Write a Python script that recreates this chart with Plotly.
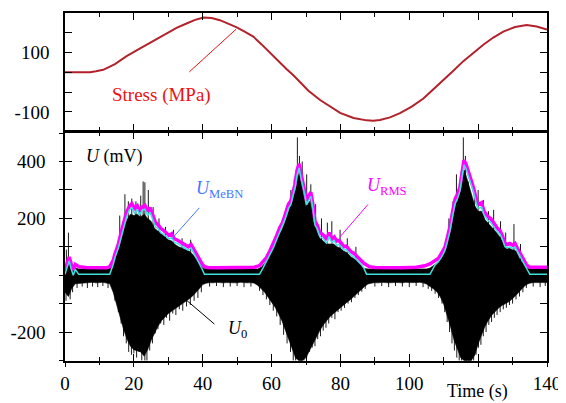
import plotly.graph_objects as go

# ---------------- data ----------------
# Stress (MPa) vs time (s)
stress_t = [0, 1.5, 5, 7.3, 9, 11.1, 14.5, 17.9, 20.8, 23.7, 26.6, 29.5, 32.4, 35.3, 37.8, 40.2,
            42.6, 45, 47.5, 49.9, 52.3, 54.7, 57.1, 59.5, 62, 64.4, 66.4, 68.3, 70.7, 74.1,
            77, 79.9, 83.8, 87.6, 89.5, 91.5, 94.4, 97.3, 100.7, 104.1, 107, 109.9, 112.8,
            115.7, 118.6, 121.5, 124.4, 127.3, 130.7, 134.1, 137, 140]
stress_v = [32.5, 32.5, 32.5, 33, 36, 41, 60, 87, 106, 125, 144, 163, 181, 196, 208, 216,
            214, 207, 196, 183, 168, 152, 126, 98, 70, 43, 22, 0, -29, -60,
            -82, -103, -120, -128, -129, -127, -118, -104, -82, -55, -24, 6, 38,
            70, 99, 125, 149, 169, 184, 191, 186, 176]

# U0 envelopes (mV) sampled every second, t = 0..140
u0_t = list(range(0, 141))
u0_hi = [30, 55, 30, 25, 22, 22, 22, 22, 22, 22, 22, 22, 22, 25, 40, 80, 125, 165, 195, 215,
         210, 215, 205, 215, 200, 190, 165, 155, 145, 135, 125, 120, 108, 100, 95, 88, 85, 75,
         58, 42, 25,
         22, 22, 22, 22, 22, 22, 22, 22, 22, 22, 22, 22, 22, 22, 22, 22,
         28, 42, 62, 85, 110, 140, 160, 190, 225, 265, 320, 360, 300, 240, 260, 220, 160, 130,
         120, 110, 110, 110, 100, 95, 85, 78, 65, 58, 50, 35, 24,
         22, 22, 22, 22, 22, 22, 22, 22, 22, 22, 22, 22, 22, 22, 22, 22, 22, 22,
         25, 32, 42, 58, 80, 110, 180, 235, 260, 320, 370, 330, 290, 245, 225, 225, 195, 182,
         170, 155, 140, 120, 92, 95, 90, 85, 60, 40, 25,
         22, 22, 22, 22, 22, 22]
u0_lo = [-60, -75, -45, -30, -28, -26, -27, -26, -25, -27, -26, -25, -27, -30, -60, -95, -145,
         -190, -225, -250, -262, -265, -270, -285, -262, -230, -205, -180, -160, -148, -135,
         -125, -116, -108, -100, -92, -84, -74, -62, -48, -33,
         -28, -26, -27, -25, -26, -27, -26, -25, -26, -27, -25, -26, -27, -26, -28, -36,
         -48, -60, -76, -95, -112, -135, -160, -192, -222, -258, -292, -300, -300, -290, -265,
         -245, -220, -195, -175, -160, -145, -133, -122, -112, -104, -94, -85, -75, -64, -52, -40,
         -31, -28, -26, -27, -25, -26, -27, -26, -25, -26, -27, -25, -26, -27, -26, -25, -27, -31,
         -40, -48, -58, -76, -102, -140, -182, -228, -262, -292, -300, -300, -300, -282, -242,
         -210, -180, -158, -140, -126, -115, -106, -100, -93, -82, -71, -58, -44, -33,
         -28, -26, -27, -25, -26, -26]

# Individual U0 spikes (time s, peak mV)
spike_t = [0.3, 0.8, 1.5, 2.2, 3.5, 5, 6.5, 8, 9.5, 11, 12.5,
           14.5, 15.5, 16.3, 17.0, 17.8, 18.5, 19.3, 20.0, 20.8, 21.5, 22.3, 23.2, 23.8, 24.6,
           25.4, 26.2, 27.0, 27.8, 28.7, 29.5, 30.4, 31.3, 32.2, 33.2, 34.2, 35.3, 36.4, 37.5,
           38.6, 39.6,
           42, 44, 46, 48, 50, 52, 54,
           56.5, 57.5, 58.5, 59.5, 60.5, 61.5, 62.5, 63.5, 64.5, 65.5, 66.3, 67, 67.8, 68.6,
           69.4, 70.2, 71, 71.8, 72.6, 73.4, 74.2, 75.0, 75.8, 76.6, 77.5, 78.4, 79.3, 80.2,
           81.2, 82.2, 83.2, 84.2, 85.2, 86.2, 87.2,
           90, 92, 94, 96, 98, 100, 102, 104,
           105.5, 106.5, 107.5, 108.5, 109.5, 110.3, 111, 111.7, 112.4, 113.1, 113.8, 114.5,
           115.2, 115.9, 116.6, 117.3, 118, 118.7, 119.4, 120.1, 120.8, 121.5, 122.3, 123.1,
           123.9, 124.7, 125.5, 126.4, 127.3, 128.2, 129.1, 130, 131, 132, 133, 134,
           136, 138, 139.5,
           0.4, 1.0, 15.9, 17.4, 18.4, 19.4, 20.6, 22.0, 22.7, 23.2, 24.2, 25.6, 27.3, 29.2,
           31.5, 34.0, 36.5,
           64.2, 65.6, 66.6, 67.5, 68.1, 68.9, 70.2, 71.4, 72.8, 74.5, 76.2, 77.5, 79.9, 82.0,
           84.5,
           111.5, 112.7, 113.7, 114.6, 115.7, 116.3, 117.1, 118.9, 120.0, 121.5, 123.0, 124.5,
           126.5, 128, 130.4, 132.3]
spike_v = [-90, -70, -85, -60, -45, -40, -45, -40, -42, -38, -45,
           -90, -130, -170, -215, -240, -270, -280, -275, -290, -270, -300, -300, -300, -265,
           -240, -205, -190, -170, -175, -150, -160, -135, -140, -120, -125, -110, -105, -90,
           -80, -60,
           -40, -38, -42, -40, -38, -42, -40,
           -55, -70, -85, -105, -125, -145, -175, -210, -240, -270, -300, -300, -300, -300,
           -300, -290, -270, -255, -250, -225, -215, -195, -185, -170, -150, -155, -130, -125,
           -115, -100, -95, -80, -70, -58, -48,
           -40, -38, -42, -38, -40, -42, -38, -42,
           -48, -55, -65, -80, -100, -130, -165, -200, -240, -265, -290, -300,
           -300, -300, -300, -300, -300, -300, -280, -255, -245, -215, -200, -175,
           -165, -150, -140, -130, -120, -115, -105, -100, -85, -75, -60, -45,
           -40, -42, -38,
           90, 150, 210, 285, 260, 270, 260, 280, 330, 327, 300, 240, 200, 170,
           160, 130, 125,
           235, 300, 340, 485, 420, 400, 355, 320, 250, 200, 185, 190, 160, 130,
           100,
           200, 260, 355, 330, 485, 420, 330, 290, 300, 265, 225, 230,
           190, 150, 180, 110]

# U_RMS and U_MeBN (mV)
env_t = [0, 0.5, 1.2, 1.8, 2.4, 3.0, 4, 6, 8, 10, 12, 13, 14, 14.5, 15.5, 16.5, 17.2, 17.9,
         18.6, 19.4, 20.2, 21.0, 21.6, 22.4, 23.2, 24.0, 24.7, 25.5, 26.3, 27.0, 27.8, 28.6,
         29.4, 30.2, 31.0, 31.8, 32.6, 33.4, 34.2, 35.0, 35.8, 36.6, 37.4, 38.2, 39.0, 39.8,
         40.5, 41.5, 44, 48, 52, 55, 56.5, 57.5, 58.5, 59.5, 60.5, 61.5, 62.4, 63.2, 64.0,
         64.9, 65.6, 66.3, 66.8, 67.4, 68.0, 68.5, 69.0, 69.6, 70.2, 70.8, 71.4, 72.0, 72.6,
         73.3, 74.0, 74.6, 75.3, 76.0, 76.7, 77.5, 78.2, 78.9, 79.6, 80.3, 81.0, 81.7, 82.4,
         83.1, 83.8, 84.5, 85.2, 86.0, 86.8, 87.6, 88.4, 90, 94, 98, 102, 104.5, 106, 107.5,
         108.5, 109.5, 110.4, 111.1, 111.8, 112.6, 113.3, 114.0, 114.7, 115.3, 115.9, 116.5,
         117.1, 117.8, 118.6, 119.2, 119.8, 120.4, 121.0, 121.7, 122.3, 122.9, 123.6, 124.3,
         124.9, 125.6, 126.3, 127.0, 127.8, 128.5, 129.2, 130.0, 130.7, 131.4, 132.0, 132.6,
         133.3, 134.1, 135, 137, 140]
u_rms = [20, 40, 64, 40, 18, 38, 30, 27, 26, 25, 26, 30, 52, 75, 110, 160, 190, 222,
         240, 252, 236, 245, 228, 240, 246, 225, 238, 210, 185, 178, 165, 158,
         150, 140, 146, 128, 124, 118, 110, 106, 100, 108, 90, 72, 58, 40,
         30, 27, 26, 26, 27, 28, 34, 46, 62, 85, 110, 140, 168, 185, 215,
         250, 262, 300, 320, 370, 392, 360, 335, 300, 262, 280, 292, 250, 190,
         175, 150, 145, 138, 125, 150, 128, 135, 120, 122, 112, 100, 102, 92,
         82, 78, 70, 62, 50, 42, 36, 30, 27, 26, 26, 28, 33, 40, 50,
         60, 80, 100, 135, 170, 225, 268, 285, 310, 360, 405, 390,
         362, 340, 310, 275, 252, 250, 255, 225, 215, 205, 200, 190,
         178, 165, 158, 140, 112, 108, 112, 106, 112, 95, 82, 70,
         52, 35, 28, 27, 28]
u_mebn = [3, 25, 50, 22, 0, 20, 3, 3, 3, 3, 3, 3, 38, 62, 96, 145, 178, 205,
          228, 238, 218, 232, 212, 228, 232, 210, 222, 196, 170, 165, 150, 145,
          136, 128, 132, 115, 112, 105, 98, 94, 88, 96, 78, 60, 45, 22,
          3, 3, 3, 3, 3, 3, 3, 25, 48, 72, 96, 126, 152, 170, 200,
          235, 248, 285, 305, 352, 378, 345, 320, 286, 248, 266, 278, 236, 176,
          162, 136, 132, 124, 112, 136, 115, 122, 106, 108, 100, 88, 90, 80,
          70, 66, 58, 50, 38, 25, 3, 3, 3, 3, 3, 3, 3, 3, 36,
          48, 66, 88, 120, 155, 210, 252, 270, 295, 345, 388, 375,
          348, 325, 295, 260, 238, 236, 240, 212, 202, 192, 186, 176,
          164, 152, 145, 128, 100, 96, 100, 94, 100, 84, 70, 58,
          40, 20, 3, 3, 3]

x_ticks = [0, 20, 40, 60, 80, 100, 120, 140]
x_ticktext = ["0", "20", "40", "60", "80", "100", "", "140"]
top_yticks = [166.67, 100, 33.33, -33.33, -100]
top_yticktext = ["", "100", "", "", "-100"]
bot_yticks = [-300, -200, -100, 0, 100, 200, 300, 400, 500]
bot_yticktext = ["", "-200", "", "", "", "200", "", "400", ""]

# label pointer segments (t0, v0, t1, v1)
stress_ptr = (36.1, 34, 49.7, 177)
mebn_ptr = (39.0, 237, 31.0, 128)
rms_ptr = (88.0, 249, 79.8, 134)
u0_ptr = (43.4, -172, 35.3, -88)

assert len(u0_hi) == len(u0_t) == len(u0_lo)
assert len(env_t) == len(u_rms) == len(u_mebn)
assert len(spike_t) == len(spike_v)
assert len(stress_t) == len(stress_v)

FONT = "Liberation Serif, Times New Roman, serif"

fig = go.Figure()

# top panel: stress
fig.add_trace(go.Scatter(x=stress_t, y=stress_v, mode="lines", line=dict(color="#b3222b", width=2),
                         xaxis="x", yaxis="y", hoverinfo="skip"))

# bottom: spikes first, then the solid U0 band over them
sx, sy = [], []
for t, v in zip(spike_t, spike_v):
    sx += [t, t, None]
    sy += [0, v, None]
fig.add_trace(go.Scatter(x=sx, y=sy, mode="lines", line=dict(color="black", width=0.9),
                         xaxis="x2", yaxis="y2", hoverinfo="skip"))
band_x = u0_t + u0_t[::-1]
band_y = u0_hi + u0_lo[::-1]
fig.add_trace(go.Scatter(x=band_x, y=band_y, mode="lines", line=dict(color="black", width=0.6),
                         fill="toself", fillcolor="black", xaxis="x2", yaxis="y2", hoverinfo="skip"))
fig.add_trace(go.Scatter(x=env_t, y=u_rms, mode="lines", line=dict(color="#ff00ff", width=3.5),
                         xaxis="x2", yaxis="y2", hoverinfo="skip"))
fig.add_trace(go.Scatter(x=env_t, y=u_mebn, mode="lines", line=dict(color="#3fe0e0", width=1.5),
                         xaxis="x2", yaxis="y2", hoverinfo="skip"))
# invisible trace for the overlay axes that carry the outward half of the crossing ticks
fig.add_trace(go.Scatter(x=[0], y=[0], mode="markers", marker=dict(opacity=0),
                         xaxis="x3", yaxis="y3", hoverinfo="skip"))

axis_common = dict(showline=True, linecolor="black", linewidth=1.5, mirror="ticks",
                   ticks="inside", tickcolor="black", tickwidth=1.3, ticklen=7,
                   showgrid=False, zeroline=False,
                   tickfont=dict(family=FONT, size=19, color="black"))

# page body has an 8 px margin, so margins are reduced by 8 px on left/top
ML, MT, MR, MB = 57, 3, 27, 50
PH = 403 - MT - MB
split = 230 / PH
gap = 1.5 / PH
fig.update_layout(
    width=566, height=403,
    margin=dict(l=ML, r=MR, t=MT, b=MB),
    paper_bgcolor="white", plot_bgcolor="white",
    showlegend=False,
    xaxis=dict(domain=[0, 1], anchor="y", range=[0, 140], tickvals=x_ticks,
               showticklabels=False,
               minor=dict(dtick=10, ticks="inside", ticklen=4, tickcolor="black", tickwidth=1.3),
               **axis_common),
    yaxis=dict(domain=[split + gap, 1], anchor="x", range=[-163, 231], tickvals=top_yticks,
               ticktext=top_yticktext, ticklabelstandoff=10, **axis_common),
    xaxis2=dict(domain=[0, 1], anchor="y2", range=[0, 140], tickvals=x_ticks,
                ticktext=x_ticktext, ticklabelstandoff=4,
                minor=dict(dtick=10, ticks="inside", ticklen=4, tickcolor="black", tickwidth=1.3),
                **axis_common),
    yaxis2=dict(domain=[0, split], anchor="x2", range=[-302, 503], tickvals=bot_yticks,
                ticktext=bot_yticktext, ticklabelstandoff=14, **axis_common),
    xaxis3=dict(overlaying="x2", anchor="y2", range=[0, 140], tickvals=x_ticks,
                showticklabels=False, ticks="outside", ticklen=5, tickwidth=1.3,
                tickcolor="black", showline=False, showgrid=False, zeroline=False,
                minor=dict(dtick=10, ticks="outside", ticklen=3, tickcolor="black",
                           tickwidth=1.3)),
    yaxis3=dict(overlaying="y2", anchor="x2", side="left", range=[-302, 503],
                tickvals=bot_yticks, showticklabels=False, ticks="outside", ticklen=5,
                tickwidth=1.3, tickcolor="black", showline=False, showgrid=False,
                zeroline=False),
)

def seg(p, color, xr, yr):
    fig.add_shape(type="line", x0=p[0], y0=p[1], x1=p[2], y1=p[3], xref=xr, yref=yr,
                  line=dict(color=color, width=1))

seg(stress_ptr, "#ee1111", "x", "y")
seg(mebn_ptr, "#4477ff", "x2", "y2")
seg(rms_ptr, "#ff00ff", "x2", "y2")
seg(u0_ptr, "black", "x2", "y2")

def label(x, y, text, color, xr, yr, size=18, xanchor="left"):
    fig.add_annotation(x=x, y=y, xref=xr, yref=yr, text=text, showarrow=False,
                       xanchor=xanchor, yanchor="middle",
                       font=dict(family=FONT, size=size, color=color))

label(28.1, -42, "Stress (MPa)", "#ee1111", "x", "y", size=19, xanchor="center")
label(5.5, 418, "<i>U</i> (mV)", "black", "x2", "y2")
label(37.6, 300, "<i>U</i><sub>MeBN</sub>", "#4477ff", "x2", "y2")
label(87.2, 312, "<i>U</i><sub>RMS</sub>", "#ff00ff", "x2", "y2")
label(46.8, -192, "<i>U</i><sub>0</sub>", "black", "x2", "y2")
# "Time (s)" below the axis, centred near t = 119.7 s (paper coordinates)
fig.add_annotation(x=119.7 / 140, y=-31 / PH, xref="paper", yref="paper", text="Time (s)",
                   showarrow=False, xanchor="center", yanchor="middle",
                   font=dict(family=FONT, size=18, color="black"))

fig.write_html("out.html")
